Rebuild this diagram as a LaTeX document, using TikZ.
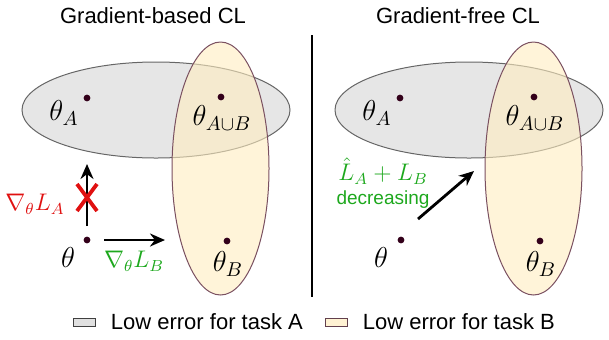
\documentclass[tikz,border=0pt]{standalone}
\usepackage{amsmath,amssymb}
\usepackage{fontspec}
\setmainfont{Liberation Sans}
\usepackage{xcolor}
\usetikzlibrary{arrows.meta,positioning}
\definecolor{lowA}{HTML}{E6E6E6}
\definecolor{lowB}{HTML}{FFEDC0}
\definecolor{edgeB}{HTML}{7A5060}
\definecolor{ptcol}{HTML}{33001A}
\definecolor{gradred}{HTML}{E01010}
\definecolor{gradgreen}{HTML}{1DA81D}

\begin{document}
\begin{tikzpicture}[x=0.5pt,y=-0.5pt,
  font=\fontsize{11}{13}\selectfont, >={Stealth[length=7.5pt,width=6.5pt]},
  setA/.style={draw=black!60,line width=0.5pt,fill=lowA},
  setB/.style={draw=edgeB,line width=0.5pt,fill=lowB,fill opacity=0.6},
  pt/.style={circle,fill=ptcol,inner sep=0pt,minimum size=3.4pt},
  lbl/.style={inner sep=0pt,font=\fontsize{14}{16}\selectfont},
  glbl/.style={inner sep=0pt,font=\fontsize{12}{14}\selectfont},
  move/.style={->,line width=1.4pt},
  keybox/.style={draw,line width=0.5pt,minimum width=11pt,minimum height=4pt,inner sep=0pt},
  keytxt/.style={inner sep=0pt,anchor=west}]
\useasboundingbox (0,0) rectangle (609,339);
% left panel: gradient-based
\node (ttlL) at (153,16) {Gradient-based CL};
\draw[setA] (156,110) ellipse [x radius=67pt,y radius=24pt];
\draw[setB] (220.5,168.5) ellipse [x radius=24.25pt,y radius=63.25pt];
\node[pt] (tA) at (87,98) {};
\node[pt] (tAB) at (221,97) {};
\node[pt] (tB) at (227,241) {};
\node[pt] (t0) at (87,240) {};
\node[lbl] at (64,113) {$\theta_A$};
\node[lbl] at (222,118) {$\theta_{A\cup B}$};
\node[lbl] at (228,264) {$\theta_B$};
\node[lbl] at (68,257) {$\theta$};
\coordinate (gA0) at (87,226);
\coordinate (gA1) at (87,164);
\coordinate (gB0) at (104,240);
\coordinate (gB1) at (165,240);
\draw[move] (gA0) -- (gA1);
\draw[move] (gB0) -- (gB1);
\draw[gradred,line width=1.9pt] (77,184) -- (97,211) (97,184) -- (77,211);
\node[glbl,text=gradred] at (35,204) {$\nabla_\theta L_A$};
\node[glbl,text=gradgreen] at (134,261) {$\nabla_\theta L_B$};
% divider
\coordinate (divT) at (312,35);
\coordinate (divB) at (312,297);
\draw[line width=1pt] (divT) -- (divB);
% right panel: gradient-free
\node (ttlR) at (458,16) {Gradient-free CL};
\draw[setA] (469,110) ellipse [x radius=67pt,y radius=24pt];
\draw[setB] (533.5,168.5) ellipse [x radius=24.25pt,y radius=63.25pt];
\node[pt] (rA) at (400,98) {};
\node[pt] (rAB) at (534,97) {};
\node[pt] (rB) at (540,241) {};
\node[pt] (r0) at (401,240) {};
\node[lbl] at (377,113) {$\theta_A$};
\node[lbl] at (535,118) {$\theta_{A\cup B}$};
\node[lbl] at (541,264) {$\theta_B$};
\node[lbl] at (381,257) {$\theta$};
\coordinate (fr0) at (418,219);
\coordinate (fr1) at (474,171);
\draw[move] (fr0) -- (fr1);
\node[glbl,text=gradgreen] (lossF) at (383,171) {$\hat L_A+L_B$};
\node[inner sep=0pt,text=gradgreen,font=\fontsize{9.5}{11}\selectfont,below=3pt of lossF] {decreasing};
% legend
\node[keybox,draw=black!75,fill=black!12] (keyA) at (84,322) {};
\node[keytxt,right=7.5pt of keyA] {Low error for task A};
\node[keybox,draw=edgeB!80!black,fill=lowB!70] (keyB) at (336,322) {};
\node[keytxt,right=7.5pt of keyB] {Low error for task B};
\end{tikzpicture}
\end{document}
